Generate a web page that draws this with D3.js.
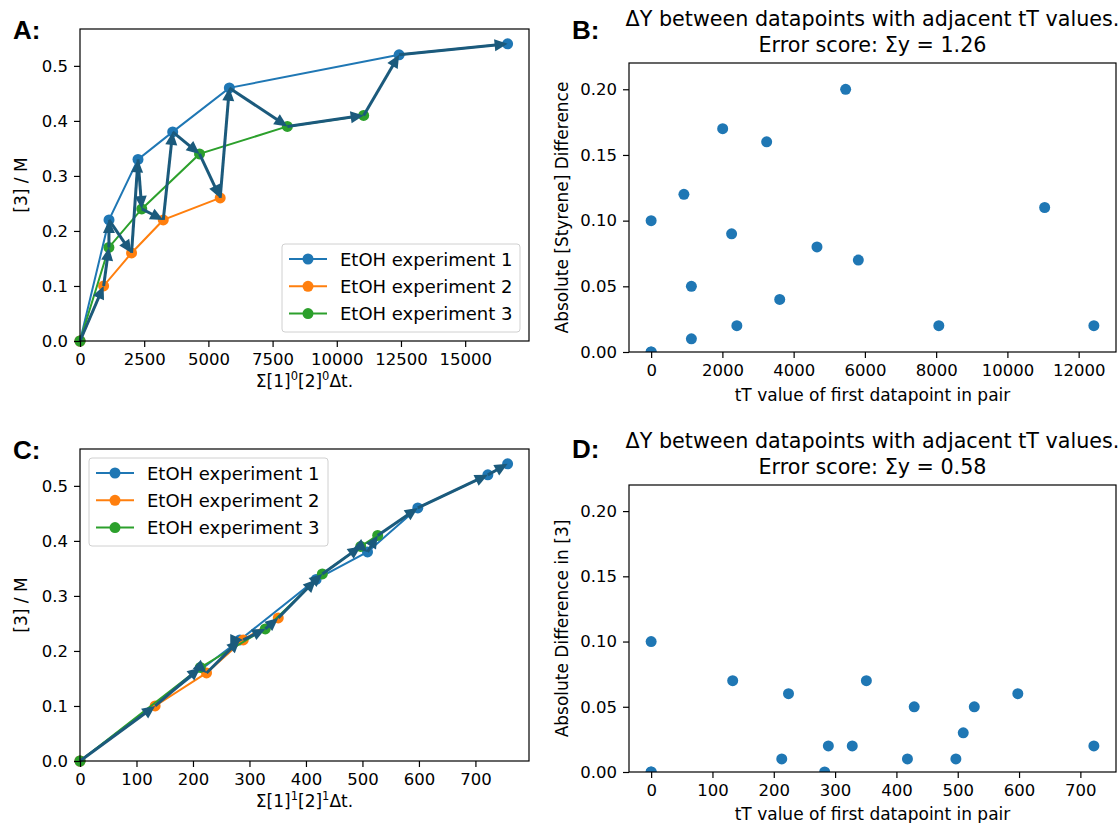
<!DOCTYPE html>
<html><head><meta charset="utf-8">
<script src="https://cdn.jsdelivr.net/npm/d3@7"></script>
<style>
body{margin:0;background:#fff;}
text{font-family:"DejaVu Sans",sans-serif;fill:#000;}
</style></head>
<body><svg id="c" width="1120" height="823"></svg>
<script>
// ---------- data ----------
// Panel A: x = Σ[1]^0[2]^0Δt, y = [3] / M
const exp1A_x = [0, 1130, 2259, 3609, 5816, 12427, 16653];
const exp2A_x = [0, 920, 2008, 3243, 5460];
const exp3A_x = [0, 1125, 2406, 4655, 8075, 11046];
// Panel C: x = Σ[1]^1[2]^1Δt
const exp1C_x = [0, 283, 418, 509, 598, 722, 757];
const exp2C_x = [0, 133, 224, 289, 351];
const exp3C_x = [0, 213, 328, 429, 497, 527];
// y values shared by A and C
const exp1_y = [0, 0.22, 0.33, 0.38, 0.46, 0.52, 0.54];
const exp2_y = [0, 0.10, 0.16, 0.22, 0.26];
const exp3_y = [0, 0.17, 0.24, 0.34, 0.39, 0.41];
const seriesNames = ["EtOH experiment 1", "EtOH experiment 2", "EtOH experiment 3"];
// Panel B
const bX = [0, 0, 0, 920, 1130, 1130, 2008, 2259, 2406, 3243, 3609, 4655, 5460, 5816, 8075, 11046, 12427];
const bY = [0, 0, 0.10, 0.12, 0.05, 0.01, 0.17, 0.09, 0.02, 0.16, 0.04, 0.08, 0.20, 0.07, 0.02, 0.11, 0.02];
// Panel D
const dX = [0, 0, 0, 133, 213, 224, 283, 289, 328, 351, 418, 429, 497, 509, 527, 598, 722];
const dY = [0, 0, 0.10, 0.07, 0.01, 0.06, 0.00, 0.02, 0.02, 0.07, 0.01, 0.05, 0.01, 0.03, 0.05, 0.06, 0.02];
// ticks
const ticksA_x = [0, 2500, 5000, 7500, 10000, 12500, 15000];
const ticksC_x = [0, 100, 200, 300, 400, 500, 600, 700];
const ticksAC_y = [0, 0.1, 0.2, 0.3, 0.4, 0.5];
const ticksB_x = [0, 2000, 4000, 6000, 8000, 10000, 12000];
const ticksD_x = [0, 100, 200, 300, 400, 500, 600, 700];
const ticksBD_y = [0, 0.05, 0.10, 0.15, 0.20];

// ---------- style ----------
const colors = ["#1f77b4", "#ff7f0e", "#2ca02c"];
const arrowColor = "#1b5a7c";
const svg = d3.select("#c");
svg.append("rect").attr("width",1120).attr("height",823).attr("fill","#fff");

function axesFrame(g, x, y, xt, yt, xfmt, yfmt){
  const [x0,x1] = x.range(), [y0,y1] = y.range();
  const xa = g.append("g").attr("transform",`translate(0,${y0})`)
    .call(d3.axisBottom(x).tickValues(xt).tickFormat(xfmt).tickSize(6).tickPadding(6));
  const ya = g.append("g").attr("transform",`translate(${x0},0)`)
    .call(d3.axisLeft(y).tickValues(yt).tickFormat(yfmt).tickSize(6).tickPadding(6));
  [xa,ya].forEach(a=>{
    a.select(".domain").remove();
    a.selectAll(".tick line").attr("stroke","#000").attr("stroke-width",1.2);
    a.selectAll(".tick text").attr("font-size",16.5).attr("fill","#000").style("font-family","DejaVu Sans");
  });
}
function frameRect(g, x, y){
  const [x0,x1] = x.range(), [y0,y1] = y.range();
  g.append("rect").attr("x",x0).attr("y",y1).attr("width",x1-x0).attr("height",y0-y1)
    .attr("fill","none").attr("stroke","#000").attr("stroke-width",1.2);
}

function linePanel(opt){
  const g = svg.append("g");
  const xs = [opt.xs1, opt.xs2, opt.xs3];
  const ys = [exp1_y, exp2_y, exp3_y];
  const xmax = d3.max(xs.flat());
  const ymax = d3.max(ys.flat());
  const x = d3.scaleLinear().domain([0, xmax*1.05]).range([opt.left, opt.right]);
  const y = d3.scaleLinear().domain([0, ymax*1.05]).range([opt.bottom, opt.top]);
  const clipId = "clip"+opt.id;
  svg.append("clipPath").attr("id",clipId).append("rect")
    .attr("x",opt.left-6).attr("y",opt.top-6).attr("width",opt.right-opt.left+12).attr("height",opt.bottom-opt.top+12);
  const pg = g.append("g").attr("clip-path",`url(#${clipId})`);
  const line = d3.line().x(d=>x(d[0])).y(d=>y(d[1]));
  xs.forEach((xx,i)=>{
    const pts = xx.map((v,j)=>[v, ys[i][j]]);
    pg.append("path").attr("d",line(pts)).attr("fill","none").attr("stroke",colors[i]).attr("stroke-width",2);
    pg.selectAll(null).data(pts).enter().append("circle")
      .attr("cx",d=>x(d[0])).attr("cy",d=>y(d[1])).attr("r",5.5).attr("fill",colors[i]);
  });
  // arrows through all points sorted by x
  const all = [];
  xs.forEach((xx,i)=>xx.forEach((v,j)=>all.push([v, ys[i][j]])));
  all.sort((a,b)=>a[0]-b[0]);
  const headL = 13, headW = 6;
  for(let k=0;k<all.length-1;k++){
    const p0=[x(all[k][0]),y(all[k][1])], p1=[x(all[k+1][0]),y(all[k+1][1])];
    const dx=p1[0]-p0[0], dy=p1[1]-p0[1], L=Math.hypot(dx,dy);
    if(L<1) continue;
    const ux=dx/L, uy=dy/L;
    const bx=p1[0]-ux*headL, by=p1[1]-uy*headL;
    pg.append("line").attr("x1",p0[0]).attr("y1",p0[1]).attr("x2",bx+ux*1).attr("y2",by+uy*1)
      .attr("stroke",arrowColor).attr("stroke-width",3);
    pg.append("path").attr("d",`M${p1[0]},${p1[1]}L${bx-uy*headW},${by+ux*headW}L${bx+uy*headW},${by-ux*headW}Z`)
      .attr("fill",arrowColor);
  }
  frameRect(g,x,y);
  axesFrame(g,x,y,opt.xticks,ticksAC_y,d3.format("d"),d3.format(".1f"));
  // x label with superscripts
  const xl = g.append("text").attr("x",(opt.left+opt.right)/2).attr("y",opt.bottom+46)
    .attr("text-anchor","middle").attr("font-size",17);
  xl.append("tspan").text("Σ[1]");
  xl.append("tspan").attr("font-size",11.5).attr("dy",-7).text(opt.sup);
  xl.append("tspan").attr("dy",7).text("[2]");
  xl.append("tspan").attr("font-size",11.5).attr("dy",-7).text(opt.sup);
  xl.append("tspan").attr("dy",7).text("Δt.");
  g.append("text").attr("transform",`translate(21,${(opt.top+opt.bottom)/2}) rotate(-90)`)
    .attr("text-anchor","middle").attr("dominant-baseline","central").attr("font-size",17).text("[3] / M");
  // legend
  const lg = g.append("g");
  lg.append("rect").attr("x",opt.leg[0]).attr("y",opt.leg[1]).attr("width",opt.leg[2]).attr("height",opt.leg[3])
    .attr("rx",3).attr("fill","#fff").attr("fill-opacity",0.8).attr("stroke","#d0d0d0").attr("stroke-width",1);
  seriesNames.forEach((s,i)=>{
    const yy = opt.leg[1]+15+i*27.3;
    const lx = opt.leg[0]+7;
    lg.append("line").attr("x1",lx).attr("x2",lx+38).attr("y1",yy).attr("y2",yy).attr("stroke",colors[i]).attr("stroke-width",2);
    lg.append("circle").attr("cx",lx+19).attr("cy",yy).attr("r",5.5).attr("fill",colors[i]);
    lg.append("text").attr("x",lx+51).attr("y",yy).attr("dominant-baseline","central").attr("font-size",18).text(s);
  });
  svg.append("text").attr("x",13).attr("y",opt.top+10).attr("font-size",26).attr("font-weight","bold")
    .style("font-family","Liberation Sans, Arial, sans-serif").text(opt.letter);
}

function scatterPanel(opt){
  const g = svg.append("g");
  const xmax = d3.max(opt.xv), xmin = d3.min(opt.xv), pad=(xmax-xmin)*0.05;
  const x = d3.scaleLinear().domain([xmin-pad, xmax+pad]).range([opt.left, opt.right]);
  const y = d3.scaleLinear().domain([0, 0.22]).range([opt.bottom, opt.top]);
  const clipId = "clip"+opt.id;
  svg.append("clipPath").attr("id",clipId).append("rect")
    .attr("x",opt.left).attr("y",opt.top).attr("width",opt.right-opt.left).attr("height",opt.bottom-opt.top);
  g.append("g").attr("clip-path",`url(#${clipId})`).selectAll("circle").data(opt.xv).enter().append("circle")
    .attr("cx",d=>x(d)).attr("cy",(d,i)=>y(opt.yv[i])).attr("r",5.5).attr("fill","#1f77b4");
  frameRect(g,x,y);
  axesFrame(g,x,y,opt.xticks,ticksBD_y,d3.format("d"),d3.format(".2f"));
  const cx=(opt.left+opt.right)/2;
  g.append("text").attr("x",cx).attr("y",opt.bottom+opt.xlabDy).attr("text-anchor","middle").attr("font-size",17)
    .text("tT value of first datapoint in pair");
  g.append("text").attr("transform",`translate(562,${(opt.top+opt.bottom)/2}) rotate(-90)`)
    .attr("text-anchor","middle").attr("dominant-baseline","central").attr("font-size",17).text(opt.ylabel);
  const score = d3.sum(opt.yv).toFixed(2);
  g.append("text").attr("x",cx).attr("y",opt.top-37).attr("text-anchor","middle").attr("font-size",20.7)
    .text("ΔY between datapoints with adjacent tT values.");
  g.append("text").attr("x",cx).attr("y",opt.top-11).attr("text-anchor","middle").attr("font-size",20.7)
    .text("Error score: Σy = "+score);
  svg.append("text").attr("x",572).attr("y",opt.letterY).attr("font-size",26).attr("font-weight","bold")
    .style("font-family","Liberation Sans, Arial, sans-serif").text(opt.letter);
}

linePanel({id:"A",left:80,right:529,top:29,bottom:341,xs1:exp1A_x,xs2:exp2A_x,xs3:exp3A_x,
  xticks:ticksA_x,sup:"0",leg:[282,244,238,88],letter:"A:"});
linePanel({id:"C",left:80,right:529,top:449,bottom:761,xs1:exp1C_x,xs2:exp2C_x,xs3:exp3C_x,
  xticks:ticksC_x,sup:"1",leg:[89,458,239,88],letter:"C:"});
scatterPanel({id:"B",left:629,right:1116,top:63,bottom:352,xv:bX,yv:bY,xticks:ticksB_x,xlabDy:49,
  ylabel:"Absolute [Styrene] Difference",letter:"B:",letterY:39});
scatterPanel({id:"D",left:629,right:1116,top:485,bottom:772,xv:dX,yv:dY,xticks:ticksD_x,xlabDy:48,
  ylabel:"Absolute Difference in [3]",letter:"D:",letterY:458});
</script></body></html>
